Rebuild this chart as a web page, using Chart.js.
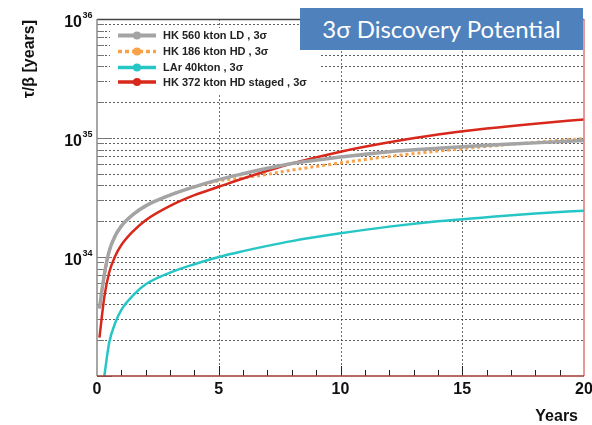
<!DOCTYPE html>
<html><head><meta charset="utf-8">
<script src="https://cdn.jsdelivr.net/npm/chart.js@4/dist/chart.umd.min.js"></script>
<style>
html,body{margin:0;padding:0;background:#fff;}
#wrap{position:relative;width:592px;height:425px;overflow:hidden;}
#title{position:absolute;left:300px;top:8px;width:283px;height:42px;background:#4f81bd;color:#fff;font-family:Lato,'Open Sans',sans-serif;font-size:24px;line-height:42px;text-align:center;}
</style></head><body>
<div id="wrap"><canvas id="c" width="592" height="425"></canvas><div id="title">3σ Discovery Potential</div></div>
<script>
// ---- data ----
const years       = [0.1, 0.3, 0.5, 0.75, 1, 1.5, 2, 3, 4, 5, 6, 7, 8, 10, 12, 14, 16, 18, 20];
const hk560LD     = [3.7e33, 7.1e33, 1.12e34, 1.51e34, 1.82e34, 2.29e34, 2.69e34, 3.31e34, 3.89e34, 4.47e34, 5.01e34, 5.56e34, 6.1e34, 6.92e34, 7.67e34, 8.2e34, 8.7e34, 9.1e34, 9.55e34];
const hk186HD     = [3.7e33, 7.1e33, 1.12e34, 1.51e34, 1.82e34, 2.29e34, 2.69e34, 3.31e34, 3.89e34, 4.37e34, 4.62e34, 4.95e34, 5.37e34, 6.17e34, 7.0e34, 7.76e34, 8.5e34, 9.2e34, 9.9e34];
const lar40       = [null, 1.0e33, 1.9e33, 2.8e33, 3.6e33, 4.8e33, 5.9e33, 7.4e33, 8.7e33, 1.0e34, 1.12e34, 1.24e34, 1.36e34, 1.58e34, 1.8e34, 2.0e34, 2.16e34, 2.32e34, 2.45e34];
const hk372staged = [2.1e33, 4.6e33, 7.4e33, 1.02e34, 1.26e34, 1.66e34, 2.04e34, 2.69e34, 3.31e34, 3.89e34, 4.57e34, 5.31e34, 6.1e34, 7.67e34, 9.2e34, 1.07e35, 1.2e35, 1.32e35, 1.43e35];
const seriesNames = ["HK 560 kton LD , 3σ", "HK 186 kton HD , 3σ", "LAr 40kton , 3σ", "HK 372 kton HD staged , 3σ"];
const xTicks      = [0, 5, 10, 15, 20];
const xTickLabels = ["0", "5", "10", "15", "20"];
const yDecades    = [1e33, 1e34, 1e35, 1e36];
const yLabelVals  = [1e34, 1e35, 1e36];
const yLabelExp   = ["34", "35", "36"];
const xTitle = "Years";
const yTitle = "τ/β [years]";

const colors = ['#a4a4a4', '#f7a24a', '#27c6c6', '#d8281c'];
const pts = arr => years.map((x, i) => ({x: x, y: arr[i]}));

const deco = {
  id: 'deco',
  beforeDatasetsDraw(chart) {
    const {ctx, chartArea: a, scales: {x, y}} = chart;
    ctx.save();
    ctx.lineWidth = 1;
    ctx.setLineDash([2, 2]);
    ctx.strokeStyle = 'rgba(40,40,40,0.75)';
    for (let d = 0; d < yDecades.length - 1; d++) {
      for (let m = 1; m <= 9; m++) {
        const v = yDecades[d] * m;
        if (v <= y.min || v >= y.max) continue;
        const py = Math.round(y.getPixelForValue(v)) + 0.5;
        ctx.beginPath(); ctx.moveTo(a.left, py); ctx.lineTo(a.right, py); ctx.stroke();
      }
    }
    ctx.strokeStyle = 'rgba(60,60,60,0.75)';
    xTicks.forEach(v => {
      if (v <= x.min || v >= x.max) return;
      const px = Math.round(x.getPixelForValue(v)) + 0.5;
      ctx.beginPath(); ctx.moveTo(px, a.top); ctx.lineTo(px, a.bottom); ctx.stroke();
    });
    ctx.setLineDash([]);
    ctx.fillStyle = '#fff';
    ctx.fillRect(110, 28, 210, 67);
    ctx.strokeStyle = '#777';
    for (let d = 0; d < yDecades.length; d++) {
      for (let m = 1; m <= 9; m++) {
        const v = yDecades[d] * m;
        if (v < y.min || v > y.max) continue;
        const py = Math.round(y.getPixelForValue(v)) + 0.5;
        ctx.beginPath(); ctx.moveTo(a.left, py); ctx.lineTo(a.left + (m === 1 ? 15 : 7), py); ctx.stroke();
      }
    }
    ctx.strokeStyle = '#222';
    for (let v = 1; v < 20; v++) {
      const px = Math.round(x.getPixelForValue(v)) + 0.5;
      ctx.beginPath(); ctx.moveTo(px, a.bottom); ctx.lineTo(px, a.bottom - (v % 5 === 0 ? 10 : 6)); ctx.stroke();
    }
    ctx.restore();
  },
  afterDatasetsDraw(chart) {
    const {ctx, chartArea: a, scales: {x, y}} = chart;
    ctx.save();
    ctx.lineWidth = 1.5;
    ctx.strokeStyle = '#444';
    ctx.beginPath(); ctx.moveTo(a.left, a.top + 0.5); ctx.lineTo(a.right, a.top + 0.5); ctx.stroke();
    ctx.strokeStyle = '#8a8a8a';
    ctx.beginPath(); ctx.moveTo(a.left, a.top); ctx.lineTo(a.left, a.bottom); ctx.stroke();
    ctx.strokeStyle = '#e07777';
    ctx.beginPath(); ctx.moveTo(a.right, a.top); ctx.lineTo(a.right, a.bottom); ctx.stroke();
    ctx.strokeStyle = '#a3392e';
    ctx.beginPath(); ctx.moveTo(a.left, a.bottom); ctx.lineTo(a.right, a.bottom); ctx.stroke();

    const ly = [35.5, 51.5, 67.5, 82];
    seriesNames.forEach((n, i) => {
      ctx.strokeStyle = colors[i];
      ctx.fillStyle = colors[i];
      ctx.lineWidth = i === 0 ? 4 : 3.5;
      ctx.setLineDash(i === 1 ? [4, 3] : []);
      ctx.beginPath(); ctx.moveTo(118, ly[i]); ctx.lineTo(156, ly[i]); ctx.stroke();
      ctx.setLineDash([]);
      ctx.beginPath(); ctx.arc(137, ly[i], 4, 0, Math.PI * 2); ctx.fill();
      ctx.fillStyle = '#222';
      ctx.font = 'bold 11px "Liberation Sans", Arial, sans-serif';
      ctx.textAlign = 'left'; ctx.textBaseline = 'middle';
      ctx.fillText(n, 163, ly[i] + 0.5);
    });

    ctx.fillStyle = '#111';
    ctx.textBaseline = 'alphabetic';
    yLabelVals.forEach((v, i) => {
      const py = y.getPixelForValue(v);
      ctx.font = 'bold 16px "Liberation Sans", Arial, sans-serif';
      ctx.textAlign = 'right';
      ctx.fillText('10', 82, py + 8);
      ctx.font = 'bold 9px "Liberation Sans", Arial, sans-serif';
      ctx.textAlign = 'left';
      ctx.fillText(yLabelExp[i], 82.5, py - 1);
    });
    ctx.font = 'bold 16px "Liberation Sans", Arial, sans-serif';
    ctx.textAlign = 'center';
    xTicks.forEach((v, i) => {
      ctx.fillText(xTickLabels[i], x.getPixelForValue(v), 394);
    });
    ctx.textAlign = 'right';
    ctx.fillText(xTitle, 578, 421);
    ctx.save();
    ctx.translate(34, 20);
    ctx.rotate(-Math.PI / 2);
    ctx.font = 'bold 16px "Liberation Sans", Arial, sans-serif';
    ctx.textAlign = 'right';
    ctx.fillText(yTitle, 0, 0);
    ctx.restore();
    ctx.restore();
  }
};

new Chart(document.getElementById('c'), {
  type: 'line',
  data: {
    datasets: [
      {label: seriesNames[0], data: pts(hk560LD), borderColor: colors[0], borderWidth: 3.5, order: 1},
      {label: seriesNames[3], data: pts(hk372staged), borderColor: colors[3], borderWidth: 2.5, order: 2},
      {label: seriesNames[1], data: pts(hk186HD), borderColor: colors[1], borderWidth: 3, borderDash: [3, 3], order: 3},
      {label: seriesNames[2], data: pts(lar40), borderColor: colors[2], borderWidth: 2.5, order: 4}
    ]
  },
  options: {
    responsive: false,
    animation: false,
    layout: {padding: {left: 97, right: 8, top: 19, bottom: 49}},
    elements: {point: {radius: 0}, line: {cubicInterpolationMode: 'monotone', fill: false}},
    plugins: {legend: {display: false}, tooltip: {enabled: false}, title: {display: false}},
    scales: {
      x: {type: 'linear', min: 0, max: 20, display: false},
      y: {type: 'logarithmic', min: 1e33, max: 1e36, display: false}
    }
  },
  plugins: [deco]
});
</script>
</body></html>
